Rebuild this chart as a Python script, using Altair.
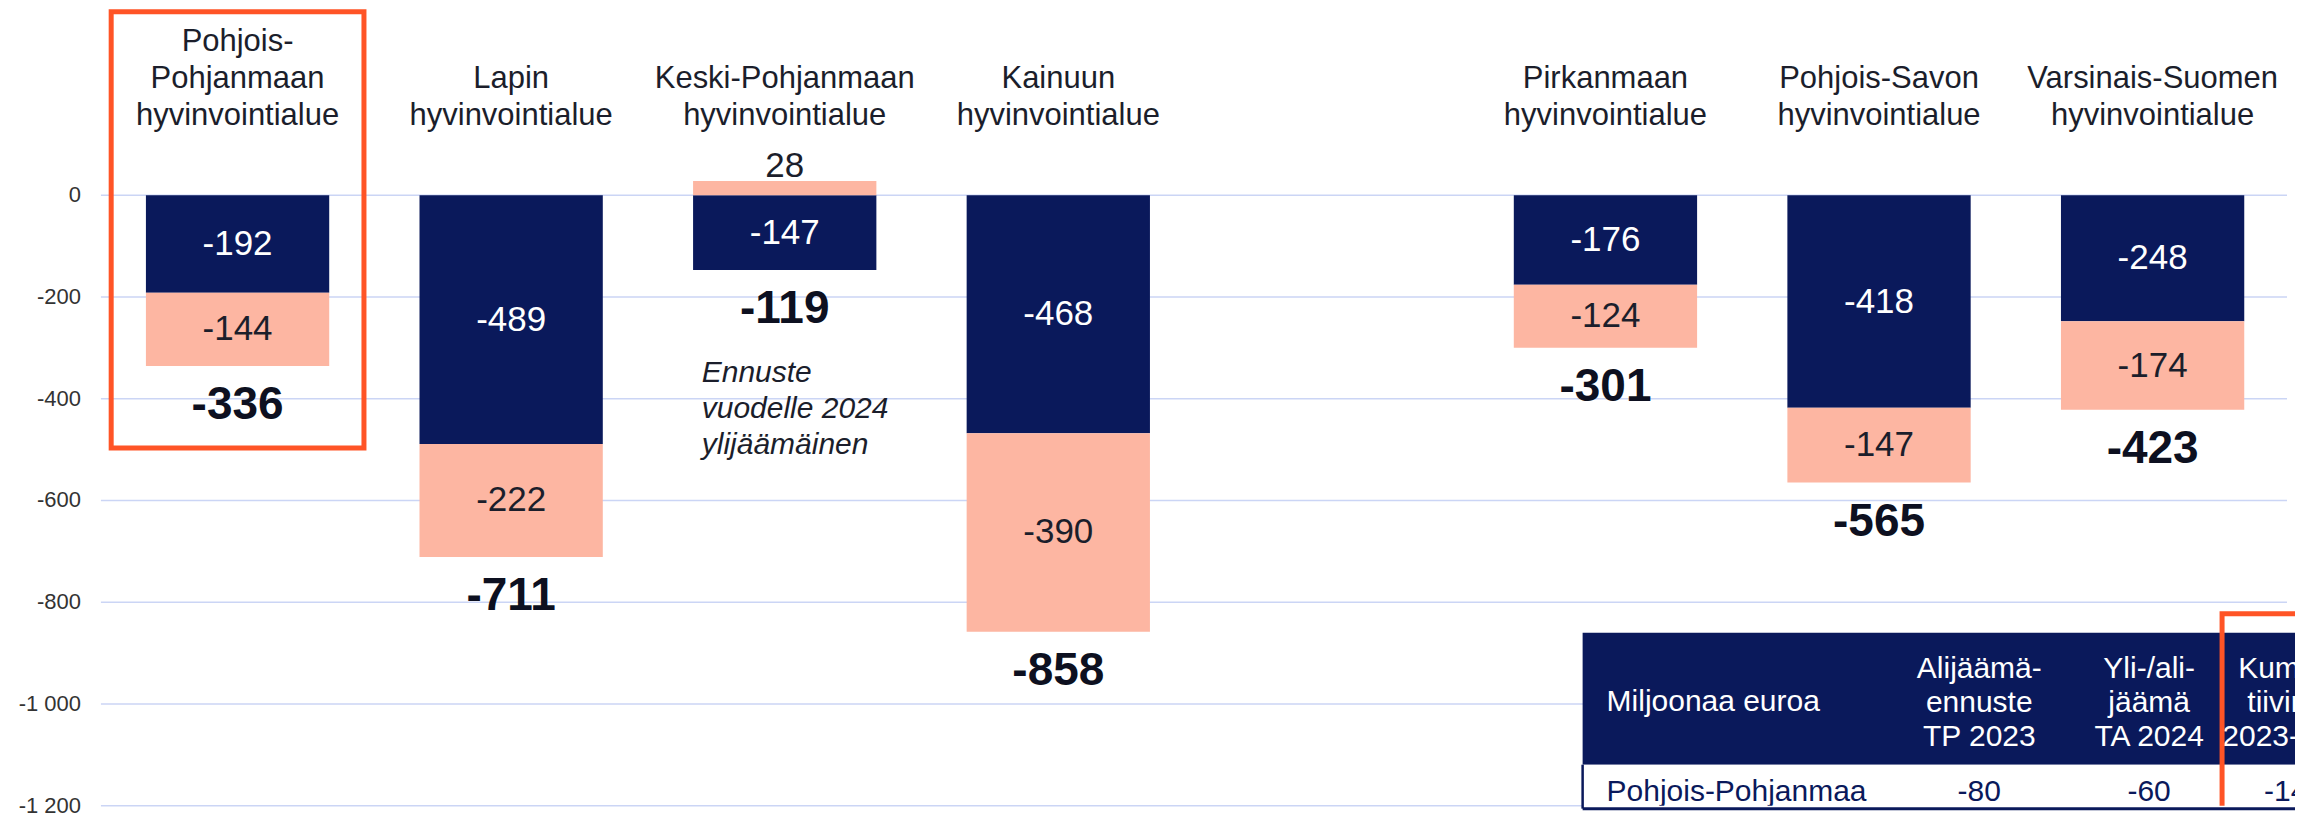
import altair as alt
import pandas as pd

# ---------------- data ----------------
regions = ["Pohjois-Pohjanmaa", "Lappi", "Keski-Pohjanmaa", "Kainuu",
           "Pirkanmaa", "Pohjois-Savo", "Varsinais-Suomi"]
region_titles = ["Pohjois-\nPohjanmaan\nhyvinvointialue", "Lapin\nhyvinvointialue",
                 "Keski-Pohjanmaan\nhyvinvointialue", "Kainuun\nhyvinvointialue",
                 "Pirkanmaan\nhyvinvointialue", "Pohjois-Savon\nhyvinvointialue",
                 "Varsinais-Suomen\nhyvinvointialue"]
tp2023 = [-192, -489, -147, -468, -176, -418, -248]
ta2024 = [-144, -222, 28, -390, -124, -147, -174]
totals = [-336, -711, -119, -858, -301, -565, -423]
series_names = ["Alijäämäennuste TP 2023", "Yli-/alijäämä TA 2024"]
gap_slot = "(tyhjä)"
slot_order = regions[:4] + [gap_slot] + regions[4:]
highlight = ["Pohjois-Pohjanmaa"]
note_region = ["Keski-Pohjanmaa"]
note_text = ["Ennuste\nvuodelle 2024\nylijäämäinen"]
y_ticks = [0, -200, -400, -600, -800, -1000, -1200]

table_header = ["Miljoonaa euroa", "Alijäämä-\nennuste\nTP 2023",
                "Yli-/ali-\njäämä\nTA 2024", "Kumula-\ntiivinen\n2023-2024"]
table_row = ["Pohjois-Pohjanmaa", "-80", "-60", "-140"]

# ---------------- style / layout ----------------
NAVY = "#0A195B"
PINK = "#FDB6A2"
ORANGE = "#FF5426"
INK = "#1B1E2B"
GRID = "#CBD5F5"
FONT = "Liberation Sans"

W, H = 2196, 797
Y_MIN, Y_MAX = -1200, 365.3
PXU = H / (Y_MAX - Y_MIN)          # pixels per unit
ZERO_PX = Y_MAX * PXU               # pixel row of the zero line inside the plot


def px2v(py):
    """plot-relative pixel row (page row minus top margin) -> data units"""
    return (ZERO_PX - py) / PXU


TOP = 8
CAT_LAST_BASELINE = 124 - TOP
CAT_LH = 37
BOX_TOP, BOX_BOTTOM, BOX_W = px2v(10.5 - TOP), px2v(447 - TOP), 253
NOTE_Y, NOTE_DX = px2v(381 - TOP), -83
TOTAL_DY = 39

T_LEFT, T_RIGHT = 1483, W
T_TOP, T_HEAD_BOTTOM, T_ROW_BOTTOM = px2v(632 - TOP), px2v(764 - TOP), px2v(808 - TOP)
T_HEAD_Y1 = px2v(701.7 - TOP)      # single-line header (centre)
T_HEAD_YM = px2v(668.7 - TOP)      # first line of multi-line headers
T_ROW_Y = px2v(791.7 - TOP)
T_COL_U = [1507, 1880, 2050, 2195]
T_COL_ALIGN = ["left", "center", "center", "center"]
T_HL_LEFT, T_HL_TOP = 2123, px2v(613 - TOP)

# ---------------- frames ----------------
seg_rows, tot_rows = [], []
for r, a, b, t in zip(regions, tp2023, ta2024, totals):
    seg_rows.append(dict(region=r, series=series_names[0], y0=0, y1=a, value=a, lc="#FFFFFF"))
    if b < 0:
        seg_rows.append(dict(region=r, series=series_names[1], y0=a, y1=a + b, value=b, lc=INK))
        bottom = a + b
    else:
        seg_rows.append(dict(region=r, series=series_names[1], y0=0, y1=b, value=b, lc=INK))
        bottom = a
    tot_rows.append(dict(region=r, total=str(t), bottom=bottom))
seg = pd.DataFrame(seg_rows)
seg["mid"] = (seg["y0"] + seg["y1"]) / 2
seg["top"] = seg[["y0", "y1"]].max(axis=1)
seg["label"] = seg["value"].astype(str)
seg_in = seg[seg["value"].abs() >= 60]
seg_out = seg[seg["value"].abs() < 60]
tot = pd.DataFrame(tot_rows)

cats = pd.DataFrame(dict(region=regions, title=region_titles))
cats["y"] = [px2v(CAT_LAST_BASELINE - (t.count("\n")) * CAT_LH) for t in region_titles]
box = pd.DataFrame(dict(region=highlight, top=[BOX_TOP], bottom=[BOX_BOTTOM]))
note = pd.DataFrame(dict(region=note_region, text=note_text, y=[NOTE_Y]))
ticks = pd.DataFrame(dict(v=y_ticks, lab=[f"{v:,}".replace(",", " ") for v in y_ticks]))

xscale = alt.Scale(domain=slot_order, paddingInner=0.33, paddingOuter=0.175, align=0.47)
yscale = alt.Scale(domain=[Y_MIN, Y_MAX], nice=False, zero=False)


def X():
    return alt.X("region:N", scale=xscale, axis=None)


def Yn(field):
    return alt.Y(field, type="quantitative", scale=yscale, axis=None)


grid = alt.Chart(ticks).mark_rule(color=GRID, strokeWidth=1.5).encode(
    y=Yn("v"), x=alt.value(0), x2=alt.value(W - 8))
tick_labels = alt.Chart(ticks).mark_text(font=FONT, fontSize=22, color="#333333",
                                         align="right", baseline="middle").encode(
    y=Yn("v"), x=alt.value(-20), text="lab:N")

bars = alt.Chart(seg).mark_bar().encode(
    x=X(), y=Yn("y0"), y2="y1:Q",
    color=alt.Color("series:N", scale=alt.Scale(domain=series_names, range=[NAVY, PINK]), legend=None),
)

seg_labels = alt.Chart(seg_in).mark_text(font=FONT, fontSize=35, baseline="middle").encode(
    x=X(), y=Yn("mid"), text="label:N", color=alt.Color("lc:N", scale=None),
)

seg_out_labels = alt.Chart(seg_out).mark_text(font=FONT, fontSize=35, baseline="alphabetic", dy=-4, color=INK).encode(
    x=X(), y=Yn("top"), text="label:N",
)

tot_labels = alt.Chart(tot).mark_text(font=FONT, fontSize=46, fontWeight="bold", baseline="middle",
                                      dy=TOTAL_DY, color="#0D1020").encode(
    x=X(), y=Yn("bottom"), text="total:N",
)

cat_labels = alt.Chart(cats).mark_text(font=FONT, fontSize=31, baseline="alphabetic", lineBreak="\n",
                                       lineHeight=CAT_LH, color=INK).encode(
    x=X(), y=Yn("y"), text="title:N",
)

note_layer = alt.Chart(note).mark_text(font=FONT, fontSize=30, fontStyle="italic", align="left",
                                       baseline="alphabetic", lineBreak="\n", lineHeight=36,
                                       dx=NOTE_DX, color=INK).encode(
    x=X(), y=Yn("y"), text="text:N",
)

box_layer = alt.Chart(box).mark_bar(width=BOX_W, filled=False, stroke=ORANGE, strokeWidth=5).encode(
    x=X(), y=Yn("top"), y2="bottom:Q",
)

main = alt.layer(grid, tick_labels, bars, seg_labels, seg_out_labels, tot_labels,
                 cat_labels, note_layer, box_layer)

# ---------------- table ----------------
tscale = alt.Scale(domain=[0, W], nice=False, zero=False)
head_df = pd.DataFrame(dict(u0=[T_LEFT], u1=[T_RIGHT], v0=[T_TOP], v1=[T_HEAD_BOTTOM]))
row_df = pd.DataFrame(dict(u0=[T_LEFT], u1=[T_RIGHT], v0=[T_HEAD_BOTTOM], v1=[T_ROW_BOTTOM]))
hl_df = pd.DataFrame(dict(u0=[T_HL_LEFT], u1=[W + 60], v0=[T_HL_TOP], v1=[Y_MIN - 80]))
htext = pd.DataFrame(dict(u=T_COL_U, t=table_header, al=T_COL_ALIGN,
                          y=[T_HEAD_Y1 if "\n" not in h else T_HEAD_YM for h in table_header]))
rtext = pd.DataFrame(dict(u=T_COL_U, t=table_row, al=T_COL_ALIGN, y=[T_ROW_Y] * len(table_row)))


def TX(field):
    return alt.X(field, type="quantitative", scale=tscale, axis=None)


head_rect = alt.Chart(head_df).mark_rect(color=NAVY).encode(
    x=TX("u0"), x2="u1:Q", y=Yn("v0"), y2="v1:Q")
row_rect = alt.Chart(row_df).mark_rect(color="#FFFFFF").encode(
    x=TX("u0"), x2="u1:Q", y=Yn("v0"), y2="v1:Q")
row_left = alt.Chart(row_df).mark_rule(color=NAVY, strokeWidth=2.5).encode(
    x=TX("u0"), y=Yn("v0"), y2="v1:Q")
row_bottom = alt.Chart(row_df).mark_rule(color=NAVY, strokeWidth=3).encode(
    x=TX("u0"), x2="u1:Q", y=Yn("v1"))

texts = []
for al in ["left", "center"]:
    texts.append(alt.Chart(htext[htext.al == al]).mark_text(
        font=FONT, fontSize=30, color="#FFFFFF", align=al, baseline="middle",
        lineBreak="\n", lineHeight=34, clip=True).encode(
        x=TX("u"), y=Yn("y"), text="t:N"))
    texts.append(alt.Chart(rtext[rtext.al == al]).mark_text(
        font=FONT, fontSize=30, color=NAVY, align=al, baseline="middle", clip=True).encode(
        x=TX("u"), y=Yn("y"), text="t:N"))

hl_rect = alt.Chart(hl_df).mark_rect(fill=None, fillOpacity=0, stroke=ORANGE, strokeWidth=5, clip=True).encode(
    x=TX("u0"), x2="u1:Q", y=Yn("v0"), y2="v1:Q")

table = alt.layer(head_rect, row_rect, row_left, row_bottom, *texts, hl_rect)

chart = (
    alt.layer(main, table)
    .resolve_scale(x="independent")
    .properties(width=W, height=H, background="#FFFFFF",
                padding={"left": 10, "top": 0, "right": 0, "bottom": 0})
    .configure_view(stroke=None)
)

chart.save("out.html", embed_options={"renderer": "svg", "actions": False})
